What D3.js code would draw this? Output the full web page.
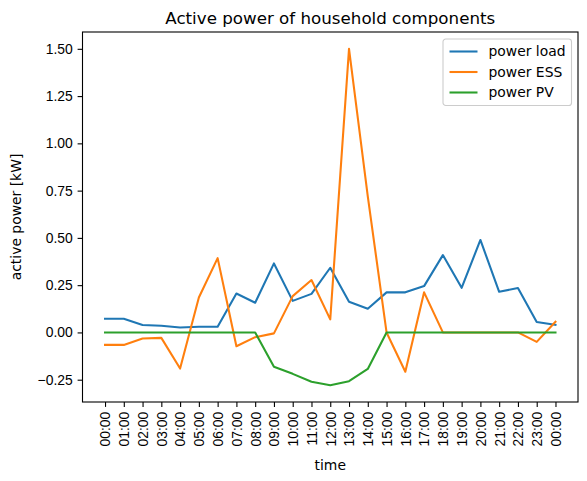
<!DOCTYPE html>
<html>
<head>
<meta charset="utf-8">
<script src="https://cdn.jsdelivr.net/npm/d3@7"></script>
<style>
    body { margin: 0; background: #fff; }
    svg { font-family: 'DejaVu Sans', sans-serif; }
</style>
</head>
<body>
<svg id="chart" width="587" height="481"></svg>
<script>
// hourly values, 00:00 .. 00:00 next day
const timeLabels = ['00:00', '01:00', '02:00', '03:00', '04:00', '05:00', '06:00', '07:00', '08:00', '09:00', '10:00', '11:00',
    '12:00', '13:00', '14:00', '15:00', '16:00', '17:00', '18:00', '19:00', '20:00', '21:00', '22:00', '23:00', '00:00']
const powerLoad = [0.072, 0.072, 0.039, 0.035, 0.026, 0.030, 0.030, 0.206, 0.157, 0.365, 0.167, 0.204,
    0.342, 0.162, 0.125, 0.212, 0.212, 0.245, 0.409, 0.236, 0.489, 0.215, 0.235, 0.055, 0.040]
const powerESS = [-0.066, -0.066, -0.032, -0.029, -0.191, 0.185, 0.393, -0.073, -0.025, -0.005, 0.192, 0.277,
    0.069, 1.50, 0.72, 0.0, -0.208, 0.212, 0.0, 0.0, 0.0, 0.0, 0.0, -0.05, 0.056]
const powerPV = [0, 0, 0, 0, 0, 0, 0, 0, 0, -0.182, -0.219, -0.261,
    -0.279, -0.258, -0.193, 0, 0, 0, 0, 0, 0, 0, 0, 0, 0]
const yTicks = [-0.25, 0, 0.25, 0.5, 0.75, 1.0, 1.25, 1.5]

const series = [
    { name: 'power load', values: powerLoad, color: '#1f77b4' },
    { name: 'power ESS', values: powerESS, color: '#ff7f0e' },
    { name: 'power PV', values: powerPV, color: '#2ca02c' }
]

const margin = { top: 32, right: 9, bottom: 79, left: 82.5 }
const width = 587 - margin.left - margin.right
const height = 481 - margin.top - margin.bottom

const svg = d3.select('#chart')
const g = svg.append('g')
    .attr('transform', 'translate(' + margin.left + ',' + margin.top + ')')

// matplotlib style 5% padding on both axes
const n = timeLabels.length - 1
const x = d3.scaleLinear()
    .domain([-0.05 * n, n * 1.05])
    .range([0, width])

const allValues = powerLoad.concat(powerESS, powerPV)
const yMin = d3.min(allValues), yMax = d3.max(allValues)
const pad = (yMax - yMin) * 0.05
const y = d3.scaleLinear()
    .domain([yMin - pad, yMax + pad])
    .range([height, 0])

const tickLen = 4.9
const fontSize = 13.9

// x axis
const xAxis = g.append('g')
    .attr('transform', 'translate(0,' + height + ')')
    .call(d3.axisBottom(x)
        .tickValues(d3.range(timeLabels.length))
        .tickFormat(i => timeLabels[i])
        .tickSizeInner(tickLen).tickSizeOuter(0).tickPadding(4.9))
xAxis.select('.domain').remove()
xAxis.selectAll('line').attr('stroke', '#000').attr('stroke-width', 1.1)
xAxis.selectAll('text')
    .style('font-size', fontSize + 'px')
    .attr('fill', '#000')
    .attr('text-anchor', 'end')
    .attr('dy', '0.35em')
    .attr('x', 0)
    .attr('y', 0)
    .attr('transform', 'translate(0,' + (tickLen + 4.9) + ') rotate(-90)')

// y axis
const yAxis = g.append('g')
    .call(d3.axisLeft(y)
        .tickValues(yTicks)
        .tickFormat(d => (d < 0 ? '\u2212' : '') + Math.abs(d).toFixed(2))
        .tickSizeInner(tickLen).tickSizeOuter(0).tickPadding(4.9))
yAxis.select('.domain').remove()
yAxis.selectAll('line').attr('stroke', '#000').attr('stroke-width', 1.1)
yAxis.selectAll('text')
    .style('font-size', fontSize + 'px')
    .attr('fill', '#000')

// lines
const line = d3.line()
    .x((d, i) => x(i))
    .y(d => y(d))

series.forEach(s => {
    g.append('path')
        .datum(s.values)
        .attr('fill', 'none')
        .attr('stroke', s.color)
        .attr('stroke-width', 2.08)
        .attr('stroke-linejoin', 'round')
        .attr('stroke-linecap', 'square')
        .attr('d', line)
})

// frame
g.append('rect')
    .attr('x', 0).attr('y', 0)
    .attr('width', width).attr('height', height)
    .attr('fill', 'none')
    .attr('stroke', '#000')
    .attr('stroke-width', 1.1)

// title and labels
svg.append('text')
    .attr('x', margin.left + width / 2)
    .attr('y', 23.5)
    .attr('text-anchor', 'middle')
    .style('font-size', '16.7px')
    .text('Active power of household components')

svg.append('text')
    .attr('x', margin.left + width / 2)
    .attr('y', 470)
    .attr('text-anchor', 'middle')
    .style('font-size', fontSize + 'px')
    .text('time')

svg.append('text')
    .attr('transform', 'translate(21,' + (margin.top + height / 2) + ') rotate(-90)')
    .attr('text-anchor', 'middle')
    .style('font-size', fontSize + 'px')
    .text('active power [kW]')

// legend
const legend = g.append('g')
    .attr('transform', 'translate(' + (width - 135) + ',7)')
legend.append('rect')
    .attr('width', 128.5).attr('height', 66.5)
    .attr('rx', 2.8)
    .attr('fill', '#fff').attr('fill-opacity', 0.8)
    .attr('stroke', '#ccc').attr('stroke-width', 1.1)
series.forEach((s, i) => {
    const row = legend.append('g')
        .attr('transform', 'translate(0,' + (12.5 + i * 20.5) + ')')
    row.append('line')
        .attr('x1', 6.5).attr('x2', 34.5)
        .attr('stroke', s.color).attr('stroke-width', 2.08)
    row.append('text')
        .attr('x', 45.5)
        .attr('dy', '0.35em')
        .style('font-size', fontSize + 'px')
        .text(s.name)
})
</script>
</body>
</html>
